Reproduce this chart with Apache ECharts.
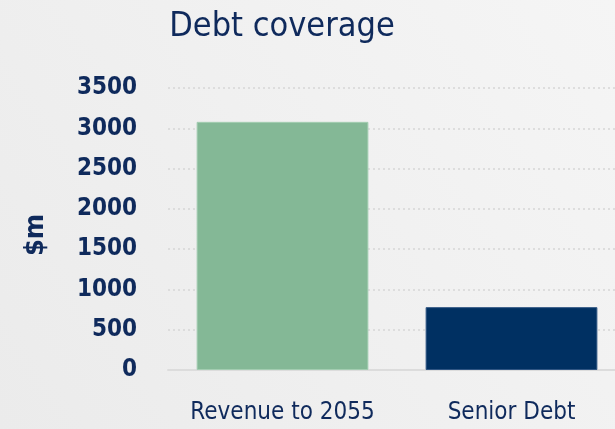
<!DOCTYPE html>
<html>
<head>
<meta charset="utf-8">
<script src="https://cdn.jsdelivr.net/npm/echarts@6/dist/echarts.min.js"></script>
<style>
html,body{margin:0;padding:0;}
#c{width:615px;height:429px;}
</style>
</head>
<body>
<div id="c"></div>
<script>
const categories = ['Revenue to 2055', 'Senior Debt'];
const values = [3080, 780];
const barColors = ['#84b896', '#003062'];
const borderColors = ['#a3cdb1', '#2f5583'];
const yTicks = { min: 0, max: 3500, interval: 500 };

const FONT = "'DejaVu Sans Condensed'";
const NAVY = '#0f2a5c';

const chart = echarts.init(document.getElementById('c'));
chart.setOption({
  backgroundColor: {
    type: 'linear', x: 1, y: 0, x2: 0, y2: 1,
    colorStops: [{offset: 0, color: '#f5f5f5'}, {offset: 1, color: '#ebebeb'}]
  },
  animation: false,
  title: {
    text: 'Debt coverage',
    left: 277, top: 5, textAlign: 'center',
    textStyle: { fontFamily: FONT, fontSize: 34, fontWeight: 'normal', color: NAVY }
  },
  graphic: [{
    type: 'text', x: 36, y: 235, rotation: Math.PI / 2,
    style: { text: '$m', fontFamily: FONT, fontSize: 27, fontWeight: 'bold', fill: NAVY,
      textAlign: 'center', textVerticalAlign: 'middle' }
  }],
  grid: { left: 168, right: -11, top: 88, bottom: 59, containLabel: false, outerBoundsMode: 'none' },
  xAxis: {
    type: 'category', data: categories,
    axisLine: { show: true, lineStyle: { color: '#dcdcdc', width: 2 } },
    axisTick: { show: false },
    axisLabel: { interval: 0, fontFamily: FONT, fontSize: 24, color: NAVY, margin: 31 }
  },
  yAxis: {
    type: 'value', min: yTicks.min, max: yTicks.max, interval: yTicks.interval,
    axisLine: { show: false }, axisTick: { show: false },
    axisLabel: { fontFamily: FONT, fontSize: 24, fontWeight: 'bold', color: NAVY, margin: 31,
      formatter: v => String(v) },
    splitLine: { show: true, lineStyle: { color: '#d6d6d6', type: [2, 3], width: 1.5 } }
  },
  series: [{
    type: 'bar',
    barCategoryGap: '25%',
    data: values.map((v, i) => ({
      value: v,
      itemStyle: { color: barColors[i], borderColor: borderColors[i], borderWidth: 1 }
    }))
  }]
});
</script>
</body>
</html>
